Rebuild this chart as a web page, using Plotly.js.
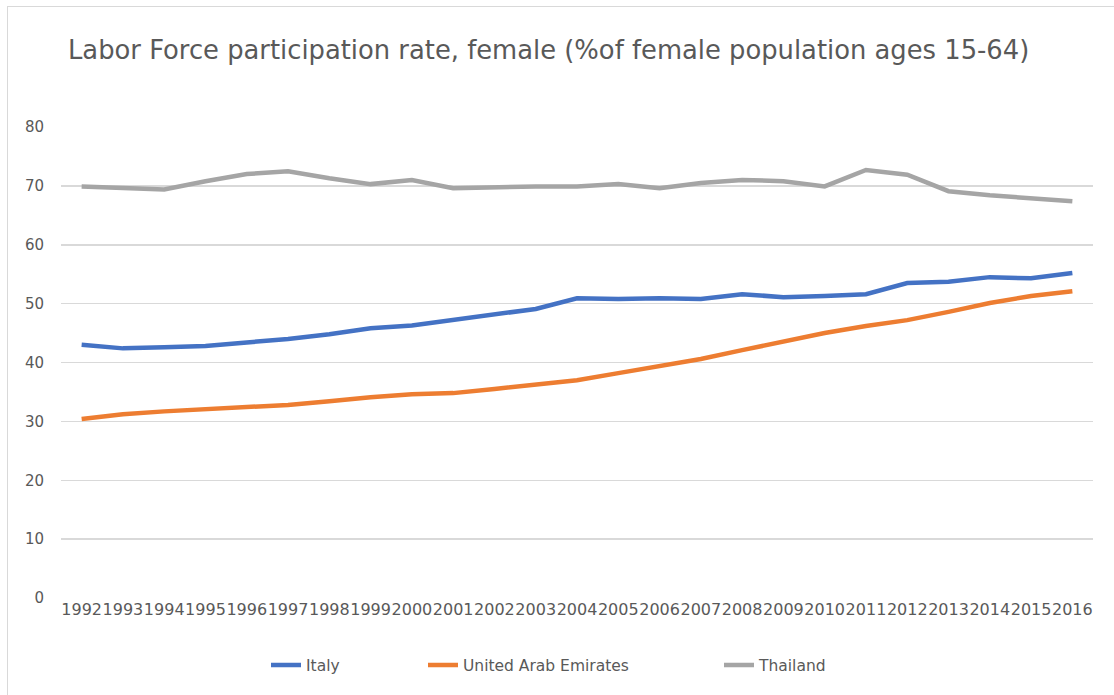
<!DOCTYPE html>
<html>
<head>
<meta charset="utf-8">
<script src="https://cdn.plot.ly/plotly-3.0.1.min.js"></script>
<style>
  html, body { margin: 0; padding: 0; background: #ffffff; }
  #chart { width: 1114px; height: 695px; }
  #frame { position: absolute; left: 7px; top: 6px; width: 1200px; height: 800px;
           border-left: 1.5px solid #d9d9d9; border-top: 1.5px solid #d9d9d9; pointer-events: none; }
</style>
</head>
<body>
<div id="chart"></div>
<div id="frame"></div>
<script>
const years = ["1992","1993","1994","1995","1996","1997","1998","1999","2000","2001","2002","2003","2004",
               "2005","2006","2007","2008","2009","2010","2011","2012","2013","2014","2015","2016"];
const italy = [43.0,42.4,42.6,42.8,43.4,44.0,44.8,45.8,46.3,47.2,48.2,49.1,50.9,
               50.8,50.9,50.8,51.6,51.1,51.3,51.6,53.5,53.7,54.5,54.3,55.2];
const uae = [30.4,31.2,31.7,32.1,32.4,32.8,33.4,34.1,34.6,34.8,35.5,36.3,37.0,
             38.2,39.4,40.6,42.1,43.6,45.0,46.2,47.2,48.6,50.1,51.3,52.1];
const thailand = [69.9,69.6,69.4,70.8,72.0,72.5,71.3,70.3,71.0,69.6,69.8,69.9,69.9,
                  70.3,69.6,70.5,71.0,70.8,69.9,72.7,71.9,69.1,68.4,67.9,67.4];
const seriesNames = ["Italy", "United Arab Emirates", "Thailand"];
const yTicks = [0,10,20,30,40,50,60,70,80];

const txt = "#595959";
const xTickFont = {family: "'DejaVu Sans', sans-serif", size: 16, color: txt};
const yTickFont = {family: "'DejaVu Sans', sans-serif", size: 15, color: txt};

function line(name, y, color, legendId) {
  return {type: "scatter", mode: "lines", x: years, y: y, name: name,
          line: {color: color, width: 4.5}, legend: legendId, hoverinfo: "x+y+name"};
}

const data = [
  line(seriesNames[0], italy, "#4472C4", "legend"),
  line(seriesNames[1], uae, "#ED7D31", "legend2"),
  line(seriesNames[2], thailand, "#A5A5A5", "legend3")
];

function legendAt(px) {
  return {orientation: "h", x: (px - 61) / 1032, xanchor: "left", y: -0.143, yanchor: "middle",
          font: {family: "'DejaVu Sans', sans-serif", size: 15.5, color: txt},
          bgcolor: "rgba(0,0,0,0)", itemwidth: 30};
}

const layout = {
  width: 1114, height: 695,
  margin: {l: 61, r: 21, t: 127, b: 97},
  paper_bgcolor: "#ffffff", plot_bgcolor: "#ffffff",
  showlegend: true,
  title: {text: "Labor Force participation rate, female (%of female population ages 15-64)",
          x: 68 / 1114, xanchor: "left", xref: "container",
          y: 1 - 50 / 695, yanchor: "middle", yref: "container",
          font: {family: "'DejaVu Sans', sans-serif", size: 25.8, color: txt}},
  xaxis: {type: "category", tickmode: "array", tickvals: years, ticktext: years,
          tickangle: 0, tickfont: xTickFont, showgrid: false, zeroline: false,
          showline: false, ticks: "", range: [-0.5, years.length - 0.5], fixedrange: true},
  yaxis: {range: [0, 80], tickmode: "array", tickvals: yTicks, ticktext: yTicks.map(String),
          tickfont: yTickFont, showgrid: true, gridcolor: "#d9d9d9", gridwidth: 1.5,
          zeroline: false, showline: false, ticks: "", ticklabelstandoff: 16, fixedrange: true},
  legend: legendAt(266),
  legend2: legendAt(423),
  legend3: legendAt(719)
};

Plotly.newPlot("chart", data, layout, {displayModeBar: false, staticPlot: true});
</script>
</body>
</html>
